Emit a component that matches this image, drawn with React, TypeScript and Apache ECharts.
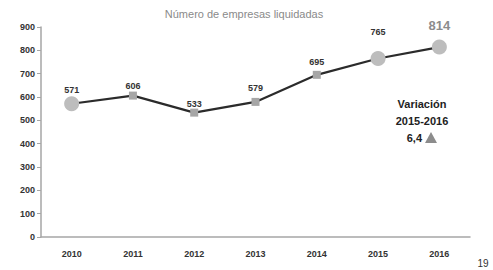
import React, { useEffect, useRef } from "react";
import * as echarts from "echarts";

const categories = ["2010", "2011", "2012", "2013", "2014", "2015", "2016"];
const values = [571, 606, 533, 579, 695, 765, 814];
const bigMarker = [true, false, false, false, false, true, true];
const yTicks = [0, 100, 200, 300, 400, 500, 600, 700, 800, 900];
const titleText = "Número de empresas liquidadas";
const variationLines = ["Variación", "2015-2016"];
const variationValue = "6,4";
const pageNumber = "19";

const FONT = "'Liberation Sans Narrow', 'Liberation Sans', sans-serif";

export default function App() {
  const ref = useRef<HTMLDivElement>(null);
  useEffect(() => {
    const chart = echarts.init(ref.current!, null, { renderer: "svg" });
    const labelGap = [2, 1.5, 0.5, 5.5, 4.5, 15, 8];
    const data = values.map((v, i) => {
      const last = i === values.length - 1;
      return {
        value: v,
        symbol: bigMarker[i] ? "circle" : "rect",
        symbolSize: bigMarker[i] ? 15 : 8,
        itemStyle: { color: bigMarker[i] ? "#bdbdbd" : "#a6a6a6" },
        label: last
          ? { fontSize: 13, color: "#8c8c8c", fontWeight: "bold", distance: labelGap[i] }
          : { distance: labelGap[i] },
      };
    });
    chart.setOption({
      animation: false,
      grid: { left: 41, right: 23, top: 27, bottom: 33 },
      xAxis: {
        type: "category",
        data: categories,
        boundaryGap: true,
        axisLine: { lineStyle: { color: "#a6a6a6", width: 1.5 } },
        axisTick: { alignWithLabel: true, length: 3, lineStyle: { color: "#a6a6a6" } },
        axisLabel: { fontFamily: FONT, fontSize: 9, color: "#333", fontWeight: "bold", margin: 12 },
      },
      yAxis: {
        type: "value",
        min: yTicks[0],
        max: yTicks[yTicks.length - 1],
        interval: 100,
        splitLine: { show: false },
        axisLine: { show: true, lineStyle: { color: "#a6a6a6", width: 1.5 } },
        axisTick: { show: true, length: 4, lineStyle: { color: "#a6a6a6" } },
        axisLabel: { fontFamily: FONT, fontSize: 9, color: "#333", fontWeight: "bold", margin: 6 },
      },
      series: [
        {
          type: "line",
          data,
          lineStyle: { color: "#2b2b2b", width: 2.2 },
          label: {
            show: true,
            position: "top",
            fontFamily: FONT,
            fontSize: 9,
            color: "#333",
            fontWeight: "bold",
          },
          z: 3,
        },
      ],
      graphic: [
        {
          type: "text",
          x: 244,
          y: 14,
          style: {
            text: titleText,
            fontFamily: FONT,
            fontSize: 11,
            fill: "#8a8a8a",
            align: "center",
            verticalAlign: "middle",
          },
        },
        {
          type: "text",
          x: 422,
          y: 104,
          style: {
            text: variationLines[0],
            fontFamily: FONT,
            fontSize: 11,
            fontWeight: "bold",
            fill: "#222",
            align: "center",
            verticalAlign: "middle",
          },
        },
        {
          type: "text",
          x: 422,
          y: 121,
          style: {
            text: variationLines[1],
            fontFamily: FONT,
            fontSize: 11,
            fontWeight: "bold",
            fill: "#222",
            align: "center",
            verticalAlign: "middle",
          },
        },
        {
          type: "text",
          x: 422,
          y: 138,
          style: {
            text: variationValue,
            fontFamily: FONT,
            fontSize: 11,
            fontWeight: "bold",
            fill: "#222",
            align: "right",
            verticalAlign: "middle",
          },
        },
        {
          type: "polygon",
          shape: { points: [[425, 143], [437, 143], [431, 132]] },
          style: { fill: "#8c8c8c" },
        },
        {
          type: "text",
          x: 483,
          y: 263,
          style: {
            text: pageNumber,
            fontFamily: FONT,
            fontSize: 10,
            fill: "#333",
            align: "center",
            verticalAlign: "middle",
          },
        },
      ],
    });
    return () => chart.dispose();
  }, []);
  return <div ref={ref} style={{ width: 493, height: 270, position: "absolute", left: 0, top: 0 }} />;
}
